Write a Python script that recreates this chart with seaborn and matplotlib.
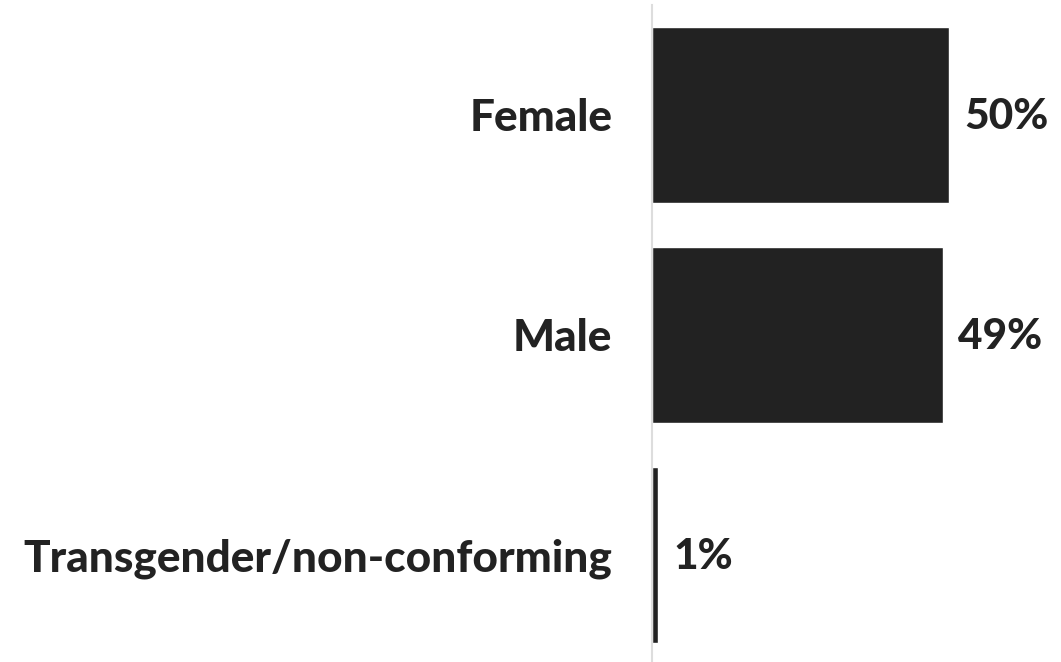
import matplotlib
matplotlib.use("Agg")
import matplotlib.pyplot as plt
import seaborn as sns
import pandas as pd

# dados
categorias = ["Female", "Male", "Transgender/non-conforming"]
percentuais = [50, 49, 1]
rotulos = ["50%", "49%", "1%"]

df = pd.DataFrame({"genero": categorias, "pct": percentuais})

sns.set_theme(style="white")
plt.rcParams['font.family'] = ['Lato', 'DejaVu Sans']

cor = "#222222"
fig = plt.figure(figsize=(10.61, 6.62), dpi=100)
ax = fig.add_axes([652 / 1061, 0, (1061 - 652) / 1061, 657 / 662])

sns.barplot(data=df, x="pct", y="genero", color=cor, width=0.8,
            saturation=1, ax=ax, orient="h")

ax.set_xlim(0, 68.9)
ax.set_ylim(2.487, -0.5)
ax.set_xlabel("")
ax.set_ylabel("")
ax.set_xticks([])
for s in ["top", "right", "bottom"]:
    ax.spines[s].set_visible(False)
ax.spines["left"].set_color("#dddddd")
ax.spines["left"].set_linewidth(1.5)

ax.tick_params(axis="y", length=0, pad=28.5)
for t in ax.get_yticklabels():
    t.set_fontsize(31.8)
    t.set_fontweight("black")
    t.set_color(cor)

for i, (v, r) in enumerate(zip(percentuais, rotulos)):
    ax.text(v + 2.6, i + 0.01, r, va="center", ha="left", fontsize=30.5,
            fontweight="black", color=cor)

fig.savefig("out.png", dpi=100)
